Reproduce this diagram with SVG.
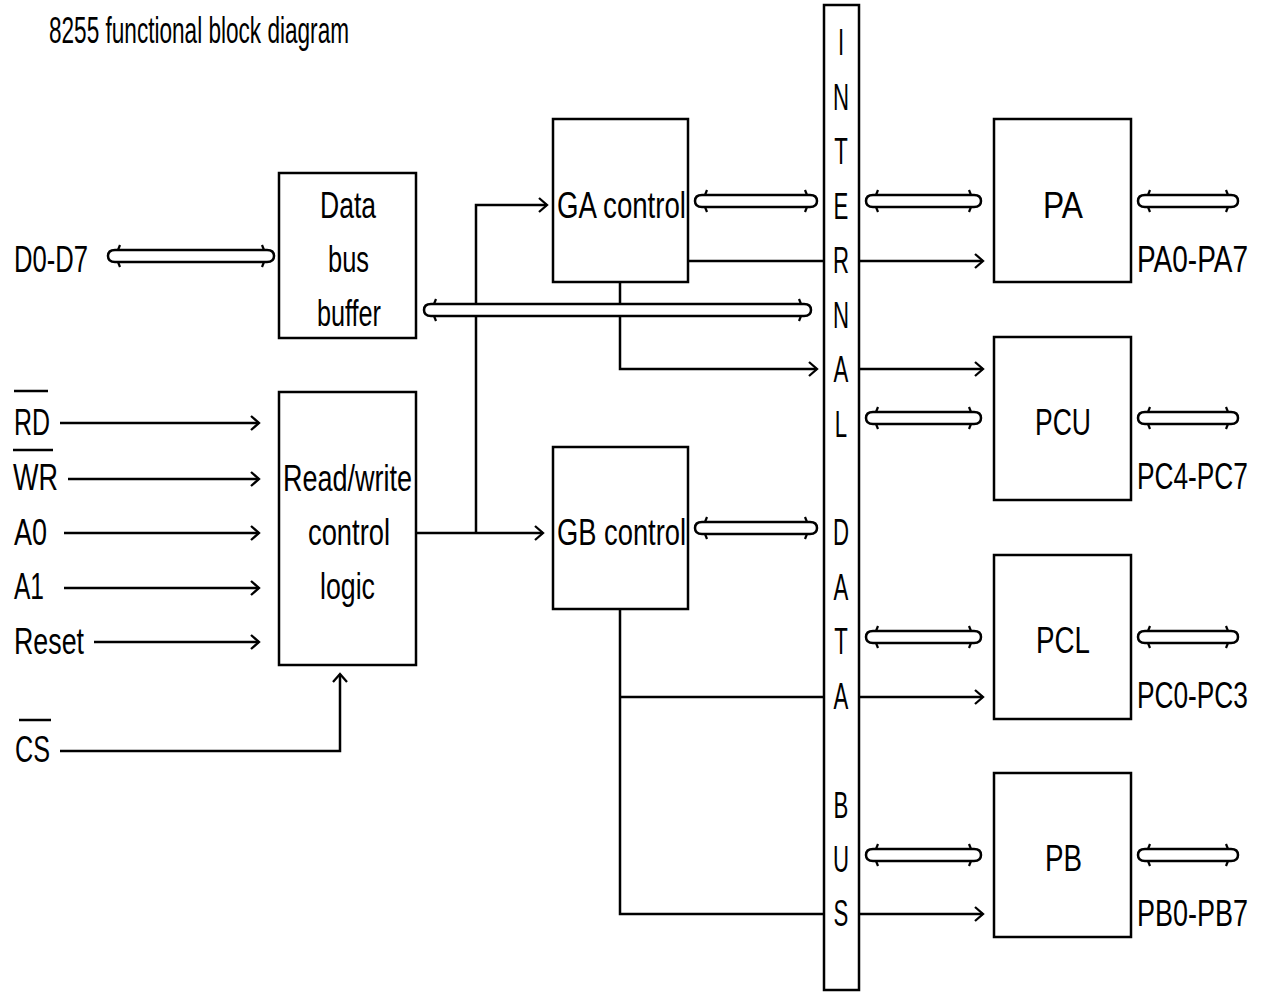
<svg xmlns="http://www.w3.org/2000/svg" width="1262" height="993" viewBox="0 0 1262 993">
<style>
.box{fill:#fff;stroke:#000;stroke-width:2.5}
.ln{fill:none;stroke:#000;stroke-width:2.5}
.arr{fill:none;stroke:#000;stroke-width:2.5;marker-end:url(#ah)}
.dab{fill:#fff;stroke:#000;stroke-width:2.5}
.tk{fill:none;stroke:#000;stroke-width:2.2}
.t{font-family:"Liberation Sans",Arial,sans-serif;font-size:37px;fill:#000}
.bl{font-family:"Liberation Sans",Arial,sans-serif;font-size:37px;fill:#000;text-anchor:middle}
</style>
<defs>
<marker id="ah" markerUnits="userSpaceOnUse" markerWidth="20" markerHeight="20" refX="10" refY="10" orient="auto" viewBox="0 0 20 20">
<path d="M2,3 L10,10 L2,17" fill="none" stroke="#000" stroke-width="2.3"/>
</marker>
</defs>
<rect width="1262" height="993" fill="#fff"/>

<text class="t" x="49" y="43" textLength="300" lengthAdjust="spacingAndGlyphs">8255 functional block diagram</text>

<g id="connectors">
<path class="arr" d="M60,423 H259"/>
<path class="arr" d="M68,479 H259"/>
<path class="arr" d="M64,533 H259"/>
<path class="arr" d="M64,588 H259"/>
<path class="arr" d="M94,642 H259"/>
<path class="arr" d="M60,751 H340 V674"/>
<path class="arr" d="M416,533 H543"/>
<path class="arr" d="M476,533 V205 H547"/>
<path class="ln" d="M688,261 H824"/>
<path class="arr" d="M620,282 V369 H817"/>
<path class="ln" d="M620,609 V914 H824"/>
<path class="ln" d="M620,697 H824"/>
<path class="arr" d="M859,261 H983"/>
<path class="arr" d="M859,369 H983"/>
<path class="arr" d="M859,697 H983"/>
<path class="arr" d="M859,914 H983"/>
<path class="dab" d="M115,250 H267 Q274,250 274,256 Q274,262 267,262 H115 Q108,262 108,256 Q108,250 115,250 Z"/>
<path class="tk" d="M262,245 L264,250 M264,262 L262,267 M120,245 L118,250 M118,262 L120,267"/>
<path class="dab" d="M431,304 H804 Q811,304 811,310 Q811,316 804,316 H431 Q424,316 424,310 Q424,304 431,304 Z"/>
<path class="tk" d="M799,299 L801,304 M801,316 L799,321 M436,299 L434,304 M434,316 L436,321"/>
<path class="dab" d="M702,195 H810 Q817,195 817,201 Q817,207 810,207 H702 Q695,207 695,201 Q695,195 702,195 Z"/>
<path class="tk" d="M805,190 L807,195 M807,207 L805,212 M707,190 L705,195 M705,207 L707,212"/>
<path class="dab" d="M873,195 H974 Q981,195 981,201 Q981,207 974,207 H873 Q866,207 866,201 Q866,195 873,195 Z"/>
<path class="tk" d="M969,190 L971,195 M971,207 L969,212 M878,190 L876,195 M876,207 L878,212"/>
<path class="dab" d="M1145,195 H1231 Q1238,195 1238,201 Q1238,207 1231,207 H1145 Q1138,207 1138,201 Q1138,195 1145,195 Z"/>
<path class="tk" d="M1226,190 L1228,195 M1228,207 L1226,212 M1150,190 L1148,195 M1148,207 L1150,212"/>
<path class="dab" d="M873,412 H974 Q981,412 981,418 Q981,424 974,424 H873 Q866,424 866,418 Q866,412 873,412 Z"/>
<path class="tk" d="M969,407 L971,412 M971,424 L969,429 M878,407 L876,412 M876,424 L878,429"/>
<path class="dab" d="M1145,412 H1231 Q1238,412 1238,418 Q1238,424 1231,424 H1145 Q1138,424 1138,418 Q1138,412 1145,412 Z"/>
<path class="tk" d="M1226,407 L1228,412 M1228,424 L1226,429 M1150,407 L1148,412 M1148,424 L1150,429"/>
<path class="dab" d="M702,522 H810 Q817,522 817,528 Q817,534 810,534 H702 Q695,534 695,528 Q695,522 702,522 Z"/>
<path class="tk" d="M805,517 L807,522 M807,534 L805,539 M707,517 L705,522 M705,534 L707,539"/>
<path class="dab" d="M873,631 H974 Q981,631 981,637 Q981,643 974,643 H873 Q866,643 866,637 Q866,631 873,631 Z"/>
<path class="tk" d="M969,626 L971,631 M971,643 L969,648 M878,626 L876,631 M876,643 L878,648"/>
<path class="dab" d="M1145,631 H1231 Q1238,631 1238,637 Q1238,643 1231,643 H1145 Q1138,643 1138,637 Q1138,631 1145,631 Z"/>
<path class="tk" d="M1226,626 L1228,631 M1228,643 L1226,648 M1150,626 L1148,631 M1148,643 L1150,648"/>
<path class="dab" d="M873,849 H974 Q981,849 981,855 Q981,861 974,861 H873 Q866,861 866,855 Q866,849 873,849 Z"/>
<path class="tk" d="M969,844 L971,849 M971,861 L969,866 M878,844 L876,849 M876,861 L878,866"/>
<path class="dab" d="M1145,849 H1231 Q1238,849 1238,855 Q1238,861 1231,861 H1145 Q1138,861 1138,855 Q1138,849 1145,849 Z"/>
<path class="tk" d="M1226,844 L1228,849 M1228,861 L1226,866 M1150,844 L1148,849 M1148,861 L1150,866"/>
</g>

<g id="pin-labels">
<text class="t" x="14" y="272" textLength="74" lengthAdjust="spacingAndGlyphs">D0-D7</text>
<text class="t" x="14" y="435" textLength="36" lengthAdjust="spacingAndGlyphs">RD</text>
<path class="ln" d="M14,391 H48"/>
<text class="t" x="13" y="490" textLength="45" lengthAdjust="spacingAndGlyphs">WR</text>
<path class="ln" d="M13,450 H53"/>
<text class="t" x="14" y="545" textLength="33" lengthAdjust="spacingAndGlyphs">A0</text>
<text class="t" x="14" y="599" textLength="30" lengthAdjust="spacingAndGlyphs">A1</text>
<text class="t" x="14" y="654" textLength="70" lengthAdjust="spacingAndGlyphs">Reset</text>
<text class="t" x="15" y="762" textLength="35" lengthAdjust="spacingAndGlyphs">CS</text>
<path class="ln" d="M19,720 H51"/>
<text class="t" transform="translate(1137,272) scale(0.73,1)" textLength="152" lengthAdjust="spacingAndGlyphs">PA0-PA7</text>
<text class="t" transform="translate(1137,489) scale(0.73,1)" textLength="152" lengthAdjust="spacingAndGlyphs">PC4-PC7</text>
<text class="t" transform="translate(1137,708) scale(0.73,1)" textLength="152" lengthAdjust="spacingAndGlyphs">PC0-PC3</text>
<text class="t" transform="translate(1137,926) scale(0.73,1)" textLength="152" lengthAdjust="spacingAndGlyphs">PB0-PB7</text>
</g>

<g id="data-bus-buffer">
<rect class="box" x="279" y="173" width="137" height="165"/>
<text class="t" x="320" y="218" textLength="56" lengthAdjust="spacingAndGlyphs">Data</text>
<text class="t" x="328" y="272" textLength="41" lengthAdjust="spacingAndGlyphs">bus</text>
<text class="t" x="317" y="326" textLength="64" lengthAdjust="spacingAndGlyphs">buffer</text>
</g>

<g id="rw-control-logic">
<rect class="box" x="279" y="392" width="137" height="273"/>
<text class="t" x="283" y="491" textLength="129" lengthAdjust="spacingAndGlyphs">Read/write</text>
<text class="t" x="308" y="545" textLength="82" lengthAdjust="spacingAndGlyphs">control</text>
<text class="t" x="320" y="599" textLength="55" lengthAdjust="spacingAndGlyphs">logic</text>
</g>

<g id="ga-control">
<rect class="box" x="553" y="119" width="135" height="163"/>
<text class="t" x="557" y="218" textLength="129" lengthAdjust="spacingAndGlyphs">GA control</text>
</g>

<g id="gb-control">
<rect class="box" x="553" y="447" width="135" height="162"/>
<text class="t" x="557" y="545" textLength="129" lengthAdjust="spacingAndGlyphs">GB control</text>
</g>

<g id="internal-data-bus">
<rect class="box" x="824" y="5" width="35" height="985"/>
<g transform="translate(841,0) scale(0.6,1)">
<text class="bl" x="0" y="55">I</text>
<text class="bl" x="0" y="110">N</text>
<text class="bl" x="0" y="164">T</text>
<text class="bl" x="0" y="219">E</text>
<text class="bl" x="0" y="273">R</text>
<text class="bl" x="0" y="328">N</text>
<text class="bl" x="0" y="382">A</text>
<text class="bl" x="0" y="437">L</text>
<text class="bl" x="0" y="545">D</text>
<text class="bl" x="0" y="600">A</text>
<text class="bl" x="0" y="654">T</text>
<text class="bl" x="0" y="709">A</text>
<text class="bl" x="0" y="818">B</text>
<text class="bl" x="0" y="872">U</text>
<text class="bl" x="0" y="926">S</text>
</g>
</g>

<g id="pa">
<rect class="box" x="994" y="119" width="137" height="163"/>
<text class="t" x="1043" y="218" textLength="40" lengthAdjust="spacingAndGlyphs">PA</text>
</g>
<g id="pcu">
<rect class="box" x="994" y="337" width="137" height="163"/>
<text class="t" x="1035" y="435" textLength="56" lengthAdjust="spacingAndGlyphs">PCU</text>
</g>
<g id="pcl">
<rect class="box" x="994" y="555" width="137" height="164"/>
<text class="t" x="1036" y="653" textLength="54" lengthAdjust="spacingAndGlyphs">PCL</text>
</g>
<g id="pb">
<rect class="box" x="994" y="773" width="137" height="164"/>
<text class="t" x="1045" y="871" textLength="37" lengthAdjust="spacingAndGlyphs">PB</text>
</g>
</svg>
